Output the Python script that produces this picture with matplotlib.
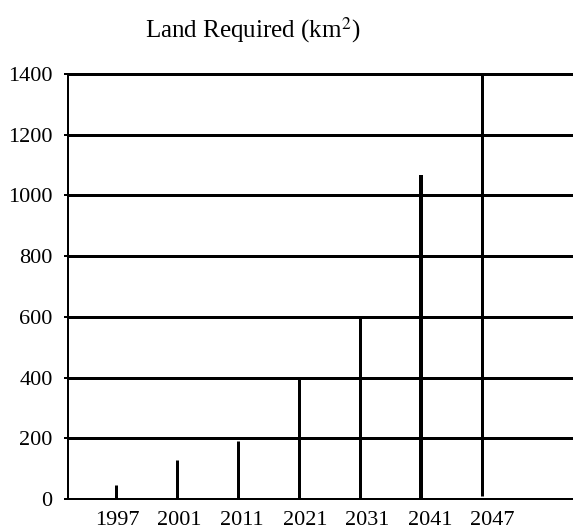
import matplotlib
matplotlib.use("Agg")
import matplotlib.pyplot as plt

years = ["1997", "2001", "2011", "2021", "2031", "2041", "2047"]
land_required = [46, 128, 191, 400, 600, 1068, 1400]
bar_bottoms = [0, 0, 0, 0, 0, 0, 10]
bar_widths_px = [3, 3, 3, 3, 3, 4, 3]
y_ticks = [0, 200, 400, 600, 800, 1000, 1200, 1400]

plt.rcParams['font.family'] = ['Liberation Serif', 'DejaVu Serif']

DPI = 100
fig = plt.figure(figsize=(5.73, 5.31), dpi=DPI)
ax = fig.add_axes([68/573, 1-499/531, 1-68/573+0.02, (499-74)/531])

px = 72.0 / DPI
x = list(range(len(years)))

for yv in y_ticks[1:]:
    ax.axhline(yv, color='black', lw=3*px, clip_on=False, zorder=2)

for xi, b, v, w in zip(x, bar_bottoms, land_required, bar_widths_px):
    ax.vlines(xi, b, v, colors='black', lw=w*px, zorder=3)

ax.set_xlim(-0.787, 7.68)
ax.set_ylim(0, 1400)
ax.set_yticks(y_ticks)
ax.set_yticklabels([str(t) for t in y_ticks], fontsize=16)

# year labels are spread slightly wider than the bars in the original
label_pos = [i * 1.025 + 0.02 for i in x]
ax.set_xticks(label_pos)
ax.set_xticklabels(years, fontsize=16)
ax.tick_params(axis='x', length=0, pad=8.5)
ax.tick_params(axis='y', length=3, width=2*px, pad=8, direction='out')

for s in ['top', 'right']:
    ax.spines[s].set_visible(False)
for s in ['left', 'bottom']:
    ax.spines[s].set_linewidth(2*px)
    ax.spines[s].set_color('black')

fig.text(253/573, 1-30/531, r"Land Required (km$^2$)", ha='center', va='center',
         fontsize=18, math_fontfamily='stix')

fig.savefig("out.png", dpi=DPI)
